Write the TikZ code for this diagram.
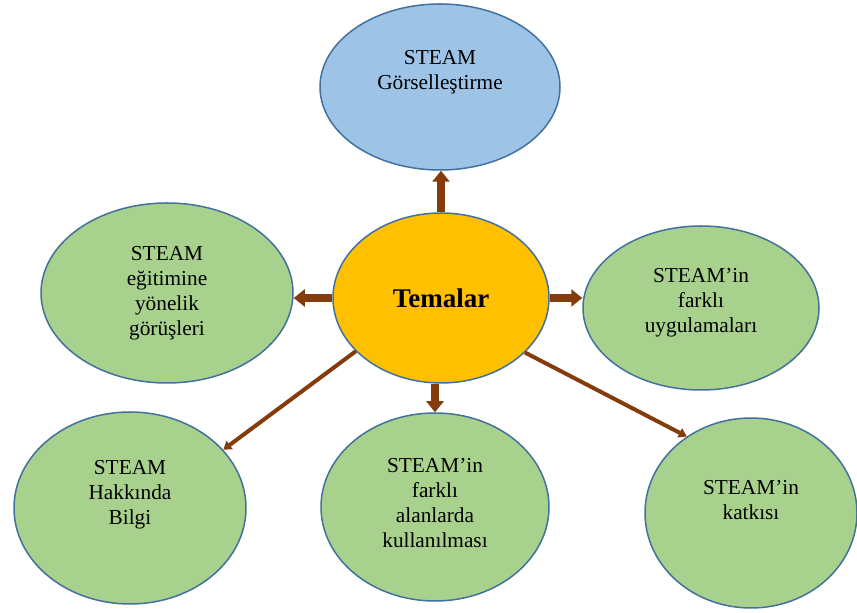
\documentclass[tikz,border=0pt]{standalone}
\usepackage{fontspec}
\setmainfont{Liberation Serif}
\usetikzlibrary{arrows.meta, shapes.geometric}
\definecolor{tmBlue}{HTML}{9DC3E6}
\definecolor{tmGreen}{HTML}{A9D18E}
\definecolor{tmOrange}{HTML}{FFC000}
\definecolor{tmEdge}{HTML}{41719C}
\definecolor{tmBrown}{HTML}{843C0C}
\tikzset{
  bubble/.style      = {ellipse, draw=tmEdge, line width=1.5pt, inner sep=0pt},
  greenbubble/.style = {bubble, fill=tmGreen},
  txt/.style         = {align=center, font=\fontsize{21.3}{25}\selectfont},
  bigarrow/.style    = {-{Triangle[width=17pt,length=11pt]}, tmBrown, line width=8pt},
  thinarrow/.style   = {-{Triangle[width=10pt,length=8pt]}, tmBrown, line width=4pt},
}

\begin{document}
\begin{tikzpicture}[x=1pt,y=1pt]
  \useasboundingbox (0,0) rectangle (857,613);
  % ellipses
  \node[bubble, fill=tmBlue, minimum width=240pt, minimum height=166pt] (gorsel) at (440,526) {};
  \node[greenbubble, minimum width=252pt, minimum height=180pt] (gorus) at (167,320) {};
  \node[greenbubble, minimum width=236pt, minimum height=164pt] (uygulama) at (701,305) {};
  \node[greenbubble, minimum width=232pt, minimum height=192pt] (bilgi) at (130,105) {};
  \node[greenbubble, minimum width=228pt, minimum height=188pt] (alan) at (435,106) {};
  \node[greenbubble, minimum width=212pt, minimum height=190pt] (katki) at (751,100) {};
  \node[bubble, fill=tmOrange, minimum width=216pt, minimum height=170pt,
        font=\fontsize{27}{32}\selectfont\bfseries] (temalar) at (441,315) {Temalar};
  % texts
  \node[txt] (gorsel-t) at ([yshift=15pt]gorsel.center) {STEAM\\Görselleştirme};
  \node[txt] (gorus-t) at (gorus.center) {STEAM\\eğitimine\\yönelik\\görüşleri};
  \node[txt] (uygulama-t) at ([yshift=5pt]uygulama.center) {STEAM’in\\farklı\\uygulamaları};
  \node[txt] (bilgi-t) at ([yshift=13pt]bilgi.center) {STEAM\\Hakkında\\Bilgi};
  \node[txt] (alan-t) at ([yshift=4pt]alan.center) {STEAM’in\\farklı\\alanlarda\\kullanılması};
  \node[txt] (katki-t) at ([yshift=13pt]katki.center) {STEAM’in\\katkısı};
  % arrows
  \draw[bigarrow] (temalar.north) -- (temalar.north |- gorsel.south);
  \draw[bigarrow] (temalar.west) -- (temalar.west -| gorus.east);
  \draw[bigarrow] (temalar.east) -- (temalar.east -| uygulama.west);
  \draw[bigarrow] (temalar.south -| alan.center) -- (alan.north);
  \draw[thinarrow] (temalar.212) -- (bilgi.32);
  \draw[thinarrow] (temalar.-33) -- (katki.130);
\end{tikzpicture}
\end{document}
